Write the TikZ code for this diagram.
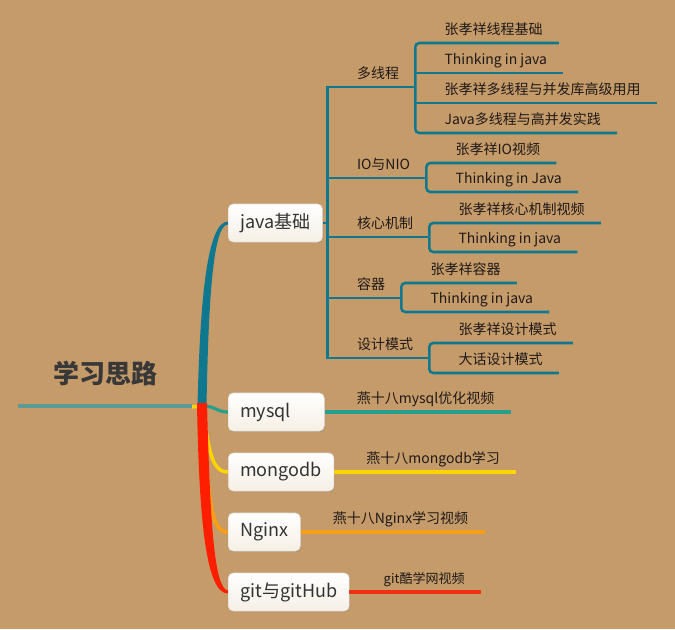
\documentclass[tikz,border=0pt]{standalone}
\usepackage{fontspec}
\setmainfont{Noto Sans CJK SC}
\usetikzlibrary{positioning,calc,shadows}
\pgfdeclarelayer{bg}
\pgfsetlayers{bg,main}

\definecolor{bgbrown}{RGB}{198,155,106}
\definecolor{javateal}{RGB}{16,120,142}
\definecolor{rootline}{RGB}{92,154,148}
\definecolor{sqlgreen}{RGB}{38,160,140}
\definecolor{mgyellow}{RGB}{255,212,0}
\definecolor{ngorange}{RGB}{245,158,25}
\definecolor{gitred}{RGB}{255,30,0}
\definecolor{gitline}{RGB}{238,50,15}
\definecolor{boxcream}{RGB}{246,239,229}
\definecolor{txt}{RGB}{30,26,24}

\tikzset{
  topic/.style={draw=black!12, top color=white, bottom color=boxcream,
    rounded corners=3.75pt, minimum height=28.5pt, inner xsep=9pt, anchor=west,
    text=black!80, font=\fontsize{13.5pt}{16pt}\selectfont,
    drop shadow={opacity=0.3, shadow xshift=0.6pt, shadow yshift=-0.9pt}},
  leaf/.style={anchor=south west, inner xsep=12pt, inner ysep=2pt,
    text height=8pt, text depth=4pt, text=txt, font=\fontsize{10.5pt}{12pt}\selectfont},
  twig/.style={javateal, line width=1.9pt},
  tail/.style={line width=2.3pt},
}

\begin{document}
\begin{tikzpicture}[x=0.75pt,y=-0.75pt]
    \useasboundingbox (0,0) rectangle (675,629);

    % root
    \node[font=\fontsize{19.5pt}{22pt}\selectfont\bfseries, text=black!78] (root) at (105,373) {学习思路};
    \coordinate (o) at (202,406);
    \coordinate (rl) at (18,406);

    % main topics
    \node[topic] (jv) at (228,223) {java基础};
    \node[topic, text width=54pt] (sql) at (228,412) {mysql};
    \node[topic] (mg) at (228,472) {mongodb};
    \node[topic] (ng) at (228,532) {Nginx};
    \node[topic] (gt) at (228,592) {git与gitHub};

    % java sub topics
    \coordinate (sp) at ($(jv.east)+(5,0)$);
    \node[leaf] (mt) at ($(sp)+(13,-136)$) {多线程};
    \node[leaf] (io) at ($(sp)+(13,-45)$) {IO与NIO};
    \node[leaf] (hx) at ($(sp)+(13,14)$) {核心机制};
    \node[leaf] (rq) at ($(sp)+(13,75)$) {容器};
    \node[leaf] (sj) at ($(sp)+(13,135)$) {设计模式};

    \node[leaf] (mt1) at ($(mt.south east)+(13,-44)$) {张孝祥线程基础};
    \node[leaf] (mt2) at ($(mt.south east)+(13,-14)$) {Thinking in java};
    \node[leaf] (mt3) at ($(mt.south east)+(13,16)$) {张孝祥多线程与并发库高级用用};
    \node[leaf] (mt4) at ($(mt.south east)+(13,46)$) {Java多线程与高并发实践};
    \node[leaf] (io1) at ($(io.south east)+(13,-15)$) {张孝祥IO视频};
    \node[leaf] (io2) at ($(io.south east)+(13,14)$) {Thinking in Java};
    \node[leaf] (hx1) at ($(hx.south east)+(13,-14)$) {张孝祥核心机制视频};
    \node[leaf] (hx2) at ($(hx.south east)+(13,15)$) {Thinking in java};
    \node[leaf] (rq1) at ($(rq.south east)+(13,-15)$) {张孝祥容器};
    \node[leaf] (rq2) at ($(rq.south east)+(13,14)$) {Thinking in java};
    \node[leaf] (sj1) at ($(sj.south east)+(13,-15)$) {张孝祥设计模式};
    \node[leaf] (sj2) at ($(sj.south east)+(13,15)$) {大话设计模式};

    \draw[twig] (jv.east) -- (sp);
    \draw[twig] (mt.south east) -- (mt.south west -| sp) -- (sj.south west -| sp) -- (sj.south east);
    \foreach \c in {io,hx,rq}
        \draw[twig] (\c.south west -| sp) -- (\c.south east);
    \draw[twig, rounded corners=3pt] (mt1.south east) -- (mt1.south west -| mt.south east)
        -- (mt4.south west -| mt.south east) -- (mt4.south east);
    \draw[twig] (mt2.south west -| mt.south east) -- (mt2.south east);
    \draw[twig] (mt3.south west -| mt.south east) -- (mt3.south east);
    \foreach \c in {io,hx,rq,sj}
        \draw[twig, rounded corners=3pt] (\c1.south east) -- (\c1.south west -| \c.south east)
            -- (\c2.south west -| \c.south east) -- (\c2.south east);

    % other topics
    \node[leaf] (sqlv) at ($(sql.east)+(16,0)$) {燕十八mysql优化视频};
    \node[leaf] (mgv) at ($(mg.east)+(16,0)$) {燕十八mongodb学习};
    \node[leaf] (ngv) at ($(ng.east)+(16,0)$) {燕十八Nginx学习视频};
    \node[leaf, font=\fontsize{9.75pt}{12pt}\selectfont] (gtv) at ($(gt.east)+(18,0)$) {git酷学网视频};
    \draw[tail, sqlgreen] (sql.east) -- (sqlv.south east);
    \draw[tail, mgyellow] (mg.east) -- (mgv.south east);
    \draw[tail, ngorange] (ng.east) -- (ngv.south east);
    \draw[tail, gitline] (gt.east) -- (gtv.south east);

    \begin{pgfonlayer}{bg}
    \fill[bgbrown] (0,0) rectangle (675,629);
    \draw[rootline, line width=3.4pt] (rl) -- ($(o)+(-10,0)$);
    % branches
    \fill[javateal] ($(o)+(-4.5,0)$) .. controls ($(o)+(-2,-106)$) and ($(jv.west)+(-21,-1.5)$) .. ($(jv.west)+(0,-1.5)$)
        -- ($(jv.west)+(0,1.5)$) .. controls ($(jv.west)+(-15,1.5)$) and ($(o)+(6.5,-106)$) .. ($(o)+(4.5,0)$) -- cycle;
    \draw[sqlgreen, line width=2.4pt] (o) .. controls ($(o)+(14,0)$) and ($(sql.west)+(-12,0)$) .. (sql.west);
    \draw[mgyellow, line width=2.6pt] ($(o)+(-10,1)$) -- (o) .. controls ($(o)+(7,40)$) and ($(mg.west)+(-18,0)$) .. (mg.west);
    \draw[ngorange, line width=3pt] (o) .. controls ($(o)+(7,95)$) and ($(ng.west)+(-18,0)$) .. (ng.west);
    \fill[gitred] ($(o)+(-5,-3)$) .. controls ($(o)+(-3,114)$) and ($(gt.west)+(-22,1.5)$) .. ($(gt.west)+(0,1.5)$)
        -- ($(gt.west)+(0,-1.5)$) .. controls ($(gt.west)+(-14,-3)$) and ($(o)+(8,114)$) .. ($(o)+(5,-3)$) -- cycle;
    \end{pgfonlayer}
\end{tikzpicture}
\end{document}
